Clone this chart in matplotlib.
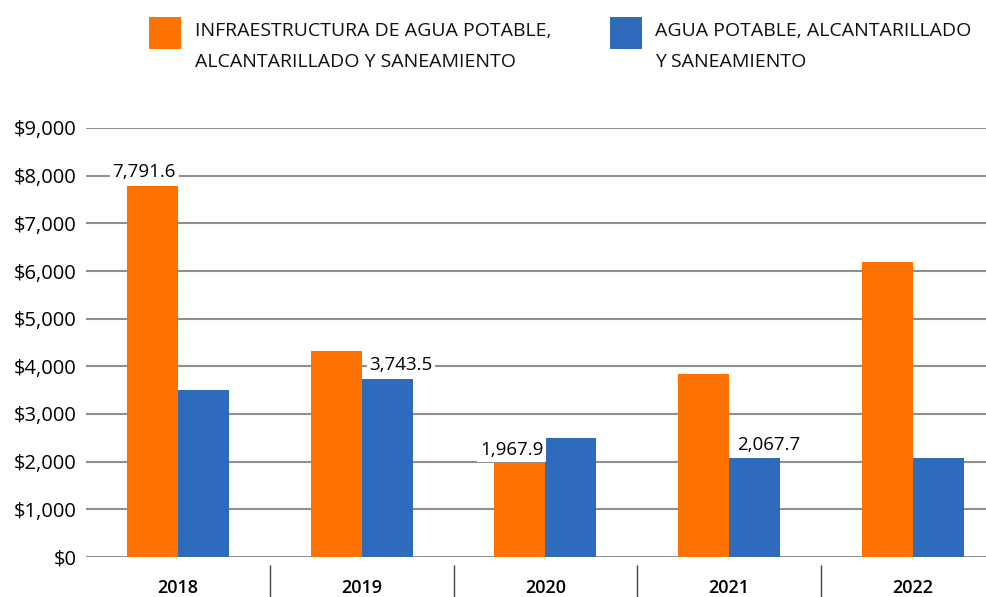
import matplotlib
matplotlib.use("Agg")
import matplotlib.pyplot as plt
import matplotlib.patches as patches
import numpy as np

years = ["2018", "2019", "2020", "2021", "2022"]
infraestructura = [7791.6, 4322.0, 1967.9, 3839.0, 6190.0]
agua_potable = [3503.0, 3743.5, 2496.0, 2067.7, 2077.0]

# which bars carry a value label (series, year index)
labeled = [("infra", 0), ("agua", 1), ("infra", 2), ("agua", 3)]

legend_labels = [
    "INFRAESTRUCTURA DE AGUA POTABLE,\nALCANTARILLADO Y SANEAMIENTO",
    "AGUA POTABLE, ALCANTARILLADO\nY SANEAMIENTO",
]

orange = "#FF7200"
blue = "#2F6BBD"
grid_color = "#8f8f8f"

plt.rcParams["font.family"] = ["Open Sans", "DejaVu Sans"]

W, H = 987, 597
fig = plt.figure(figsize=(W / 100, H / 100), dpi=100)

# axes: x from 86 px to the right edge, y zero at 557 px, 9000 at 128 px
left, bottom, top = 86, 557, 128
ax = fig.add_axes([left / W, (H - bottom) / H, (W - left) / W, (bottom - top) / H])

spacing = 183.75
x = np.arange(len(years))
bw = 51 / spacing

bars_o = ax.bar(x - bw / 2, infraestructura, bw, color=orange, zorder=3)
bars_b = ax.bar(x + bw / 2, agua_potable, bw, color=blue, zorder=3)

ax.set_ylim(0, 9000)
ax.set_xlim(-0.5, -0.5 + (W - left) / spacing)
ax.set_yticks(range(0, 9001, 1000))
ax.set_yticklabels([f"${v:,}" for v in range(0, 9001, 1000)], fontsize=14.5)
ax.yaxis.grid(True, color=grid_color, linewidth=1.5, zorder=0)
ax.tick_params(axis="y", length=0, pad=7)
ax.tick_params(axis="x", length=0, pad=16)
ax.set_xticks(x)
ax.set_xticklabels(years, fontsize=13, fontweight="semibold")
for s in ["top", "right", "left", "bottom"]:
    ax.spines[s].set_visible(False)

# separators between year groups below the axis
ax.vlines(x[:-1] + 0.5, -0.019, -0.095, transform=ax.get_xaxis_transform(),
          color="#444444", linewidth=1.0, clip_on=False)

# value labels
for series, i in labeled:
    if series == "infra":
        bar, val, dx = bars_o[i], infraestructura[i], -6
    else:
        bar, val, dx = bars_b[i], agua_potable[i], 10
    ax.annotate(f"{val:,.1f}", (bar.get_x() + bar.get_width() / 2, val),
                xytext=(dx, 3), textcoords="offset points", ha="center", va="bottom",
                fontsize=13.5, zorder=4,
                bbox=dict(boxstyle="square,pad=0.15", facecolor="white", edgecolor="none"))

# legend drawn by hand at the top
for (px, tx), color, label in zip([(149, 195), (610, 655)], [orange, blue], legend_labels):
    fig.patches.append(patches.Rectangle((px / W, 1 - 49 / H), 32 / W, 32 / H,
                                         transform=fig.transFigure, facecolor=color,
                                         edgecolor="none"))
    fig.text(tx / W, 1 - 22 / H, label, ha="left", va="top", fontsize=14,
             linespacing=1.95, color="#111111")

fig.savefig("out.png", dpi=100)
